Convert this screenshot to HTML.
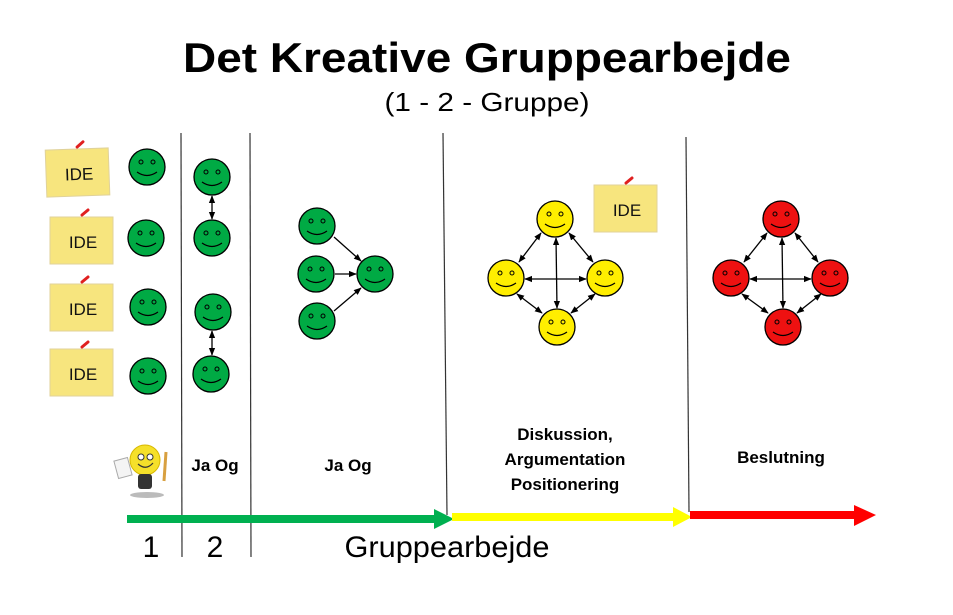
<!DOCTYPE html>
<html><head><meta charset="utf-8"><style>html,body{margin:0;padding:0;background:#fff}svg{display:block}</style></head>
<body>
<svg width="953" height="615" viewBox="0 0 953 615" xmlns="http://www.w3.org/2000/svg" font-family="Liberation Sans, sans-serif">
<defs>
<marker id="ah" viewBox="0 0 10 10" refX="9" refY="5" markerWidth="6" markerHeight="6" orient="auto-start-reverse"><path d="M0,1 L10,5 L0,9 z" fill="#000"/></marker>
<g id="face"><circle r="18" stroke="#000" stroke-width="1.3"/><circle cx="-6" cy="-5" r="2" fill="none" stroke="#000" stroke-width="1"/><circle cx="6" cy="-5" r="2" fill="none" stroke="#000" stroke-width="1"/><path d="M-10,5 Q0,12 10,5" fill="none" stroke="#000" stroke-width="1.2"/></g>
<g id="note"><rect x="0" y="0" width="63" height="47" fill="#f7e57e" stroke="#e0d29a" stroke-width="1"/><path d="M32,-2 L38,-7" stroke="#e02020" stroke-width="3" stroke-linecap="round"/><text x="33" y="31" font-size="17" text-anchor="middle" fill="#111">IDE</text></g>
</defs>
<text x="487" y="72" font-size="42" font-weight="bold" text-anchor="middle" textLength="608" lengthAdjust="spacingAndGlyphs">Det Kreative Gruppearbejde</text>
<text x="487" y="111" font-size="26" text-anchor="middle" textLength="205" lengthAdjust="spacingAndGlyphs">(1 - 2 - Gruppe)</text>
<g stroke="#333" stroke-width="1.2">
<line x1="181" y1="133" x2="182" y2="557"/><line x1="250" y1="133" x2="251" y2="557"/>
<line x1="443" y1="133" x2="447" y2="515"/><line x1="686" y1="137" x2="689" y2="512"/>
</g>
<use href="#note" x="46" y="149" transform="rotate(-2 78 172)"/>
<use href="#note" x="50" y="217"/>
<use href="#note" x="50" y="284"/>
<use href="#note" x="50" y="349"/>
<use href="#note" x="594" y="185"/>
<g fill="#00aa44">
<use href="#face" x="147" y="167"/><use href="#face" x="146" y="238"/><use href="#face" x="148" y="307"/><use href="#face" x="148" y="376"/>
<use href="#face" x="212" y="177"/><use href="#face" x="212" y="238"/><use href="#face" x="213" y="312"/><use href="#face" x="211" y="374"/>
<use href="#face" x="317" y="226"/><use href="#face" x="316" y="274"/><use href="#face" x="317" y="321"/><use href="#face" x="375" y="274"/>
</g>
<g fill="#ffee00">
<use href="#face" x="555" y="219"/><use href="#face" x="506" y="278"/><use href="#face" x="605" y="278"/><use href="#face" x="557" y="327"/>
</g>
<g fill="#ee1111">
<use href="#face" x="781" y="219"/><use href="#face" x="731" y="278"/><use href="#face" x="830" y="278"/><use href="#face" x="783" y="327"/>
</g>
<g stroke="#000" stroke-width="1.3" marker-end="url(#ah)">
<line x1="212" y1="196" x2="212" y2="219" marker-start="url(#ah)"/>
<line x1="212" y1="331" x2="212" y2="355" marker-start="url(#ah)"/>
<line x1="334" y1="237" x2="361" y2="261"/><line x1="335" y1="274" x2="356" y2="274"/><line x1="334" y1="311" x2="361" y2="288"/>
<line x1="541" y1="233" x2="519" y2="262" marker-start="url(#ah)"/>
<line x1="569" y1="233" x2="593" y2="262" marker-start="url(#ah)"/>
<line x1="525" y1="279" x2="586" y2="279" marker-start="url(#ah)"/>
<line x1="556" y1="238" x2="557" y2="308" marker-start="url(#ah)"/>
<line x1="517" y1="294" x2="542" y2="313" marker-start="url(#ah)"/>
<line x1="571" y1="313" x2="595" y2="294" marker-start="url(#ah)"/>
<line x1="767" y1="233" x2="744" y2="262" marker-start="url(#ah)"/>
<line x1="795" y1="233" x2="818" y2="262" marker-start="url(#ah)"/>
<line x1="750" y1="279" x2="811" y2="279" marker-start="url(#ah)"/>
<line x1="782" y1="238" x2="783" y2="308" marker-start="url(#ah)"/>
<line x1="742" y1="294" x2="768" y2="313" marker-start="url(#ah)"/>
<line x1="797" y1="313" x2="821" y2="294" marker-start="url(#ah)"/>
</g>
<!-- bulb -->
<g>
<ellipse cx="147" cy="495" rx="17" ry="3" fill="#bbb"/>
<rect x="116" y="459" width="14" height="18" fill="#f4f4f4" stroke="#aaa" transform="rotate(-15 123 468)"/>
<circle cx="145" cy="460" r="15" fill="#f5e02a" stroke="#d8b800"/>
<rect x="138" y="474" width="14" height="15" rx="3" fill="#333"/>
<circle cx="141" cy="457" r="3" fill="#fff" stroke="#333"/><circle cx="150" cy="457" r="3" fill="#fff" stroke="#333"/>
<path d="M138,464 Q146,471 153,463" fill="none" stroke="#333" stroke-width="1.2"/>
<line x1="166" y1="452" x2="164" y2="481" stroke="#d8a040" stroke-width="3"/>
</g>
<g font-weight="bold" font-size="17" text-anchor="middle">
<text x="215" y="471">Ja Og</text>
<text x="348" y="471">Ja Og</text>
<text x="565" y="440">Diskussion,</text>
<text x="565" y="465">Argumentation</text>
<text x="565" y="490">Positionering</text>
<text x="781" y="463">Beslutning</text>
</g>
<line x1="127" y1="519" x2="438" y2="519" stroke="#00b050" stroke-width="8"/>
<path d="M434,509 L454,519 L434,529 z" fill="#00b050"/>
<line x1="452" y1="517" x2="677" y2="517" stroke="#ffff00" stroke-width="8"/>
<path d="M673,507 L692,517 L673,527 z" fill="#ffff00"/>
<line x1="690" y1="515" x2="858" y2="515" stroke="#ff0000" stroke-width="8"/>
<path d="M854,505 L876,515 L854,526 z" fill="#ff0000"/>
<g font-size="30" text-anchor="middle">
<text x="151" y="557">1</text>
<text x="215" y="557">2</text>
<text x="447" y="557" textLength="205" lengthAdjust="spacingAndGlyphs">Gruppearbejde</text>
</g>
</svg>
</body></html>
